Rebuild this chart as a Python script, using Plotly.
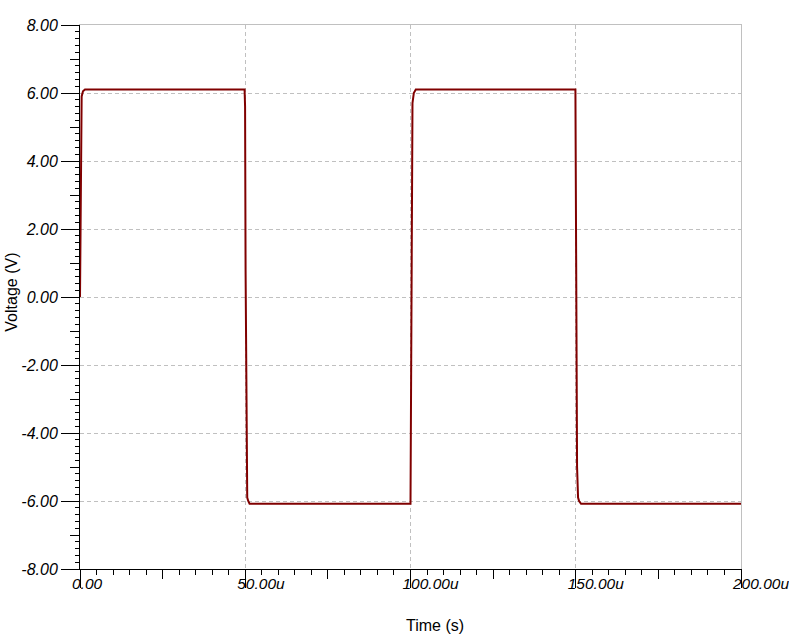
import plotly.graph_objects as go

# Waveform samples (time in microseconds, voltage in volts)
time_us = [0, 0.1, 0.25, 0.5, 0.9, 1.5,
           49.8, 49.95, 50.1, 50.3, 50.6, 50.9, 51.3,
           100.0, 100.15, 100.35, 100.6, 101.0, 101.6,
           149.9, 150.05, 150.2, 150.4, 150.7, 151.0, 151.6,
           200.0]
voltage = [0, 1.7, 5.2, 5.9, 6.05, 6.1,
           6.1, 5.6, 0.8, -3.0, -5.9, -6.0, -6.08,
           -6.08, -3.0, 2.0, 5.7, 6.0, 6.1,
           6.1, 3.0, -2.0, -5.0, -5.9, -6.0, -6.08,
           -6.08]

x_tickvals = [0, 50, 100, 150, 200]
x_ticktext = ["0.00", "50.00u", "100.00u", "150.00u", "200.00u"]
x_midticks = [25, 75, 125, 175]
y_tickvals = [8, 6, 4, 2, 0, -2, -4, -6, -8]
y_ticktext = ["8.00", "6.00", "4.00", "2.00", "0.00", "-2.00", "-4.00", "-6.00", "-8.00"]
y_midticks = [7, 5, 3, 1, -1, -3, -5, -7]

FONT = "Arial, Liberation Sans, sans-serif"
GRID = "#c0c0c0"

fig = go.Figure()
fig.add_trace(go.Scatter(x=time_us, y=voltage, mode="lines",
                         line=dict(color="#800000", width=2), hoverinfo="skip"))

tickfont_y = dict(family=FONT, size=16, color="black", style="italic")
tickfont_x = dict(family=FONT, size=15.5, color="black", style="italic")

fig.update_layout(
    width=789, height=634,
    margin=dict(l=80, r=48, t=25, b=65, autoexpand=False),
    plot_bgcolor="white", paper_bgcolor="white",
    showlegend=False,
    xaxis=dict(range=[0, 200], showline=True, linecolor="black", linewidth=1,
               ticks="outside", ticklen=18, tickwidth=1, tickcolor="black",
               tickvals=x_tickvals, ticktext=x_ticktext, tickfont=tickfont_x,
               ticklabelposition="outside right", ticklabelshift=-9,
               ticklabeloverflow="allow", automargin=False,
               showgrid=True, gridcolor=GRID, gridwidth=1, griddash="4px,3px",
               zeroline=False,
               minor=dict(dtick=5, tick0=0, ticks="outside", ticklen=5,
                          tickcolor="black", tickwidth=1, showgrid=False)),
    yaxis=dict(range=[-8, 8], showline=True, linecolor="black", linewidth=1,
               ticks="outside", ticklen=18, tickwidth=1, tickcolor="black",
               tickvals=y_tickvals, ticktext=y_ticktext, tickfont=tickfont_y,
               ticklabeloverflow="allow", automargin=False,
               showgrid=True, gridcolor=GRID, gridwidth=1, griddash="4px,3px",
               zeroline=False,
               minor=dict(dtick=0.2, tick0=0, ticks="outside", ticklen=4,
                          tickcolor="black", tickwidth=1, showgrid=False)),
    xaxis2=dict(overlaying="x", anchor="y", side="bottom", range=[0, 200],
                tickvals=x_midticks, ticks="outside", ticklen=9, tickcolor="black",
                showticklabels=False, showgrid=False, showline=False, zeroline=False,
                automargin=False),
    yaxis2=dict(overlaying="y", anchor="x", side="left", range=[-8, 8],
                tickvals=y_midticks, ticks="outside", ticklen=9, tickcolor="black",
                showticklabels=False, showgrid=False, showline=False, zeroline=False,
                automargin=False),
    xaxis3=dict(overlaying="x", anchor="y", side="top", range=[0, 200],
                showline=True, linecolor=GRID, linewidth=1, ticks="",
                showticklabels=False, showgrid=False, zeroline=False, automargin=False),
    yaxis3=dict(overlaying="y", anchor="x", side="right", range=[-8, 8],
                showline=True, linecolor=GRID, linewidth=1, ticks="",
                showticklabels=False, showgrid=False, zeroline=False, automargin=False),
    annotations=[
        dict(text="Time (s)", xref="paper", yref="paper", x=0.537, y=-0.103,
             xanchor="center", yanchor="middle", showarrow=False,
             font=dict(family=FONT, size=16, color="black")),
        dict(text="Voltage (V)", xref="paper", yref="paper", x=-0.1035, y=0.509,
             xanchor="center", yanchor="middle", showarrow=False, textangle=-90,
             font=dict(family=FONT, size=16, color="black")),
    ],
)

# invisible helper traces so the overlay axes are rendered
fig.add_trace(go.Scatter(x=[None], y=[None], xaxis="x2", yaxis="y2", showlegend=False))
fig.add_trace(go.Scatter(x=[None], y=[None], xaxis="x3", yaxis="y3", showlegend=False))

fig.write_html("out.html",
               config={"displayModeBar": False},
               post_script="document.body.style.margin='0';document.body.style.overflow='hidden';")
